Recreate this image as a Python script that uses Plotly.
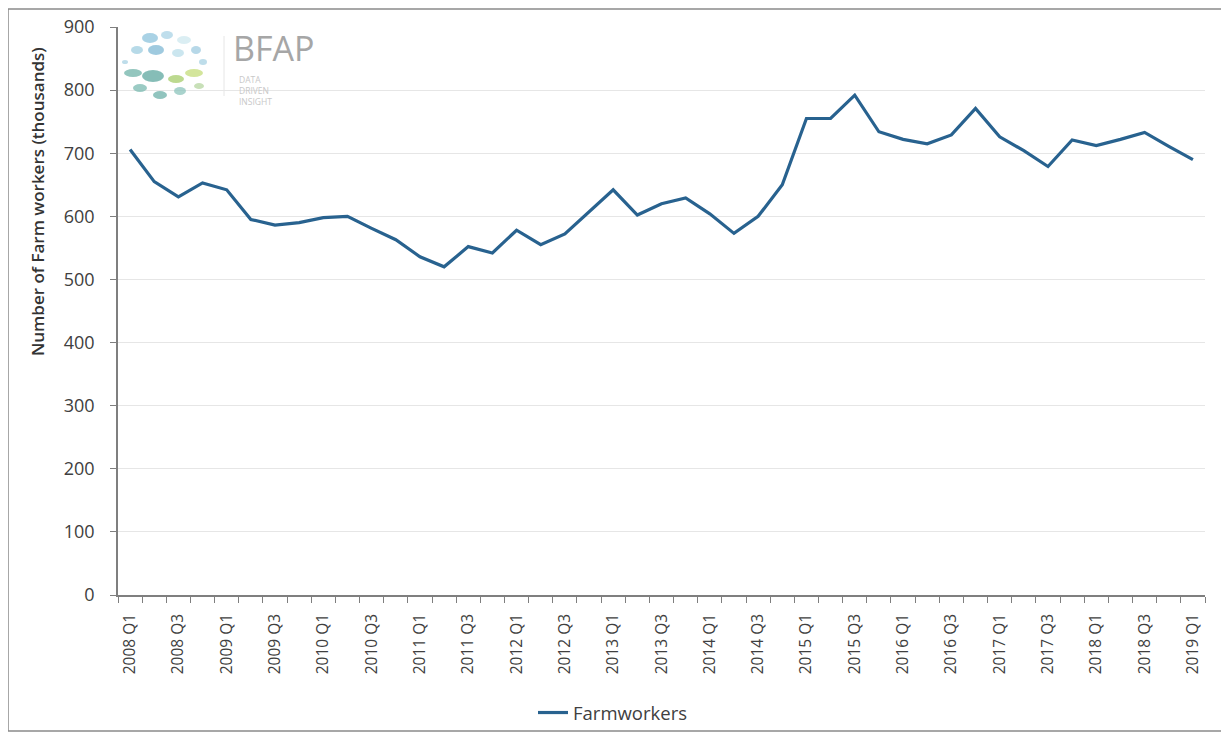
import plotly.graph_objects as go

categories = [f"{y} Q{q}" for y in range(2008, 2019) for q in range(1, 5)] + ["2019 Q1"]

farmworkers = [706, 655, 631, 653, 642, 595, 586, 590, 598, 600,
               581, 563, 536, 520, 552, 542, 578, 555, 572, 607,
               642, 602, 620, 629, 604, 573, 600, 650, 755, 755,
               792, 734, 722, 715, 729, 771, 726, 704, 679, 721,
               712, 722, 733, 711, 690]

y_ticks = [0, 100, 200, 300, 400, 500, 600, 700, 800, 900]

x_idx = list(range(len(categories)))
label_idx = x_idx[::2]
label_txt = categories[::2]
boundaries = [i - 0.5 for i in range(len(categories) + 1)]

FONT = "'Open Sans', Lato, sans-serif"
TXT = "#404040"

# window coordinates of the plot area (page body has an 8px margin)
PL, PR, PT, PB = 118, 1205, 27, 595
PW, PH = PR - PL, PB - PT


def px(x):
    return (x - PL) / PW


def py(y):
    return (PB - y) / PH


fig = go.Figure()
fig.add_trace(go.Scatter(
    x=x_idx, y=farmworkers, mode="lines", name="Farmworkers",
    line=dict(color="#28628F", width=3.2),
))

fig.update_layout(
    width=1221, height=726,
    paper_bgcolor="white", plot_bgcolor="white",
    margin=dict(l=PL - 8, r=1229 - PR, t=PT - 8, b=734 - PB, autoexpand=False),
    font=dict(family=FONT, color=TXT),
    showlegend=True,
    legend=dict(orientation="h", x=px(533), xanchor="left", y=py(694), yanchor="top",
                bgcolor="rgba(0,0,0,0)",
                font=dict(size=18.5, color=TXT, family=FONT), itemwidth=30),
)

fig.update_xaxes(
    range=[-0.5, len(categories) - 0.5], automargin=False,
    tickmode="array", tickvals=label_idx, ticktext=label_txt,
    tickangle=-90, tickfont=dict(size=15.5, color=TXT, family=FONT),
    ticks="", ticklabelstandoff=11, showgrid=False, zeroline=False,
    showline=True, linecolor="#7f7f7f", linewidth=1.5,
    minor=dict(tickmode="array", tickvals=boundaries, ticks="outside",
               ticklen=6, tickcolor="#7f7f7f", tickwidth=1.2, showgrid=False),
)

fig.update_yaxes(
    range=[0, 900], tickmode="array", tickvals=y_ticks, automargin=False,
    tickfont=dict(size=18, color=TXT, family=FONT),
    ticks="outside", ticklen=6, tickcolor="#7f7f7f", tickwidth=1.2,
    ticklabelstandoff=12,
    showgrid=True, gridcolor="#e6e6e6", gridwidth=1, zeroline=False,
    showline=True, linecolor="#7f7f7f", linewidth=1.5,
)

# y-axis title (placed as in the reference, in the upper part of the axis)
fig.add_annotation(xref="paper", yref="paper", x=px(37), y=py(202),
                   text="Number of Farm workers (thousands)", textangle=-90,
                   showarrow=False, xanchor="center", yanchor="middle",
                   font=dict(size=17, color="#333333", family=FONT, weight=600))

# outer border
fig.add_shape(type="rect", xref="paper", yref="paper",
              x0=px(8), x1=px(1222), y0=py(731), y1=py(9),
              line=dict(color="#8a8a8a", width=1.5), fillcolor="rgba(0,0,0,0)",
              layer="above")

# BFAP logo (decorative)
blobs = [
    (150, 38, 8, 5, "#8cc3dc"), (167, 35, 6, 4, "#a9d3e6"), (184, 40, 7, 4, "#cfe8ef"),
    (137, 50, 6, 4, "#9fcde0"), (156, 50, 8, 5, "#7fb8d4"), (178, 53, 6, 4, "#b9dde9"),
    (196, 50, 5, 4, "#9fcbe0"), (203, 62, 4, 3, "#a8d1e3"), (125, 62, 3, 2, "#a8d1e3"),
    (133, 73, 9, 4, "#6fb3a8"), (153, 76, 11, 6, "#5ea79f"), (176, 79, 8, 4, "#a6cc6a"),
    (194, 73, 9, 4, "#c4dc7a"), (140, 88, 7, 4, "#7ab9b0"), (160, 95, 7, 4, "#6cb0a8"),
    (180, 91, 6, 4, "#8cc4bc"), (199, 86, 5, 3, "#b5d6a0"),
]
for cx, cy, rx, ry, col in blobs:
    fig.add_shape(type="circle", xref="paper", yref="paper",
                  x0=px(cx - rx), x1=px(cx + rx), y0=py(cy + ry), y1=py(cy - ry),
                  line=dict(width=0), fillcolor=col, opacity=0.75, layer="above")
fig.add_shape(type="line", xref="paper", yref="paper",
              x0=px(224), x1=px(224), y0=py(96), y1=py(36),
              line=dict(color="#e6e6e6", width=1))
fig.add_annotation(xref="paper", yref="paper", x=px(231), y=py(48),
                   text="BFAP", showarrow=False, xanchor="left", yanchor="middle",
                   font=dict(size=34, color="#a6a6a6", family=FONT))
fig.add_annotation(xref="paper", yref="paper", x=px(237), y=py(72),
                   text="DATA<br>DRIVEN<br>INSIGHT", showarrow=False, xanchor="left",
                   yanchor="top", align="left",
                   font=dict(size=8.5, color="#c8c8c8", family=FONT))

fig.write_html("out.html")
